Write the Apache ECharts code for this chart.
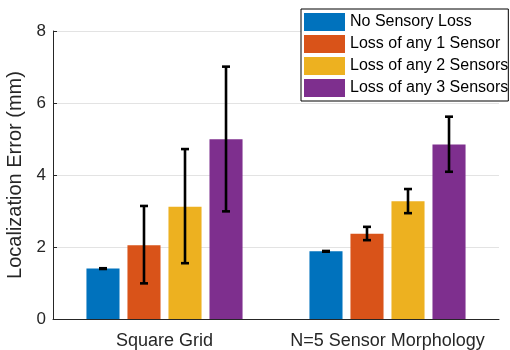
<!DOCTYPE html>
<html>
<head>
<meta charset="utf-8">
<script src="https://cdn.jsdelivr.net/npm/echarts@6/dist/echarts.min.js"></script>
<style>html,body{margin:0;padding:0;background:#fff}#c{width:510px;height:350px}</style>
</head>
<body>
<div id="c"></div>
<script>
const categories = ['Square Grid', 'N=5 Sensor Morphology'];
const seriesNames = ['No Sensory Loss', 'Loss of any 1 Sensor', 'Loss of any 2 Sensors', 'Loss of any 3 Sensors'];
const colors = ['#0072BD', '#D95319', '#EDB120', '#7E2F8E'];
const noLoss = [1.40, 1.88];
const loss1 = [2.05, 2.37];
const loss2 = [3.12, 3.27];
const loss3 = [4.99, 4.85];
const errLow = [[1.39, 1.87], [0.99, 2.19], [1.55, 2.94], [2.99, 4.09]];
const errHigh = [[1.41, 1.89], [3.14, 2.56], [4.72, 3.61], [7.01, 5.62]];
const yTicks = [0, 2, 4, 6, 8];

const means = [noLoss, loss1, loss2, loss3];
const nS = means.length;
const catGap = 0.30, barGapR = 0.24;
const font = 'Liberation Sans, Arial, Helvetica, sans-serif';

const series = [];
means.forEach((m, i) => {
  series.push({
    name: seriesNames[i], type: 'bar', data: m,
    itemStyle: { color: colors[i] },
    barGap: (barGapR * 100) + '%', barCategoryGap: (catGap * 100) + '%'
  });
});
means.forEach((m, i) => {
  series.push({
    type: 'custom', name: 'err' + i, z: 10,
    data: categories.map((c, k) => [k, errLow[i][k], errHigh[i][k]]),
    renderItem: function (params, api) {
      const k = api.value(0);
      const lo = api.coord([k, api.value(1)]);
      const hi = api.coord([k, api.value(2)]);
      const band = api.size([1, 0])[0];
      const w = band * (1 - catGap) / (nS + (nS - 1) * barGapR);
      const groupW = nS * w + (nS - 1) * barGapR * w;
      const x = lo[0] - groupW / 2 + i * w * (1 + barGapR) + w / 2;
      const cap = 4;
      const st = { stroke: '#000', lineWidth: 2.6 };
      return { type: 'group', children: [
        { type: 'line', shape: { x1: x, y1: lo[1], x2: x, y2: hi[1] }, style: st },
        { type: 'line', shape: { x1: x - cap, y1: lo[1], x2: x + cap, y2: lo[1] }, style: st },
        { type: 'line', shape: { x1: x - cap, y1: hi[1], x2: x + cap, y2: hi[1] }, style: st }
      ]};
    }
  });
});

const chart = echarts.init(document.getElementById('c'), null, { renderer: 'canvas' });
chart.setOption({
  animation: false,
  backgroundColor: '#fff',
  textStyle: { fontFamily: font },
  grid: { left: 53, right: 11, top: 31, bottom: 31, containLabel: false, outerBoundsMode: 'none' },
  legend: {
    data: seriesNames, orient: 'vertical', left: 301, top: 9,
    itemWidth: 41, itemHeight: 18, itemGap: 4,
    padding: [4, 0, 4, 3],
    borderColor: '#000', borderWidth: 1, backgroundColor: '#fff',
    icon: 'rect',
    textStyle: { fontSize: 16, color: '#000', fontFamily: font }
  },
  xAxis: {
    type: 'category', data: categories,
    axisLine: { lineStyle: { color: '#262626', width: 1 } },
    axisTick: { inside: true, length: 4, alignWithLabel: true, lineStyle: { color: '#262626' } },
    axisLabel: { interval: 0, fontSize: 18, color: '#262626', margin: 13, fontFamily: font, hideOverlap: false }
  },
  yAxis: {
    type: 'value', min: 0, max: 8, interval: 2,
    name: 'Localization Error (mm)', nameLocation: 'middle', nameGap: 24,
    nameTextStyle: { fontSize: 20, color: '#262626', fontFamily: font },
    axisLine: { show: true, lineStyle: { color: '#262626', width: 1 } },
    axisTick: { show: true, inside: true, length: 4, lineStyle: { color: '#262626' } },
    axisLabel: { fontSize: 17, color: '#262626', margin: 7, fontFamily: font,
      formatter: v => yTicks.includes(v) ? String(v) : '' },
    splitLine: { show: true, lineStyle: { color: '#e3e3e3', width: 1 } }
  },
  series: series
});
</script>
</body>
</html>
